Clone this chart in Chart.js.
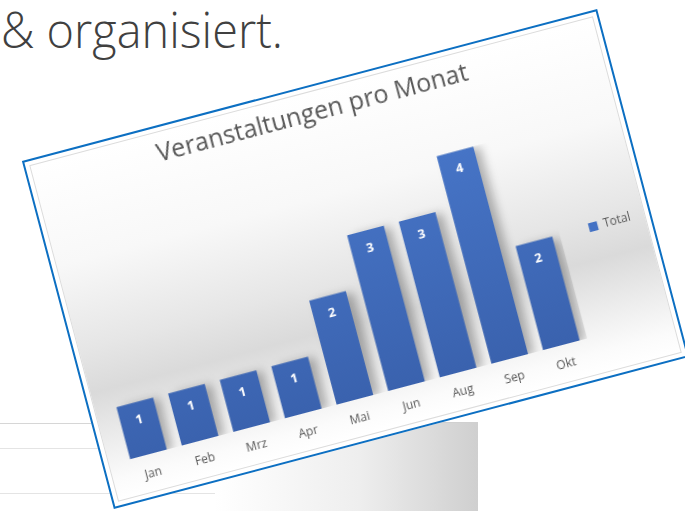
<!DOCTYPE html>
<html>
<head>
<meta charset="utf-8">
<script src="https://cdn.jsdelivr.net/npm/chart.js@4.4.1/dist/chart.umd.min.js"></script>
<style>
  html, body { margin: 0; padding: 0; background: #fff; }
  body { width: 685px; height: 511px; position: relative; overflow: hidden; }
  .headline {
    position: absolute; left: 1px; top: 4.5px;
    font-family: "Open Sans", sans-serif; font-weight: 300;
    font-size: 49px; line-height: 1; color: #404040; white-space: nowrap;
    transform-origin: 0 0;
  }
  .line { position: absolute; left: 0; height: 1px; background: #d6d6d6; }
  .shade {
    position: absolute; left: 215px; top: 422px; width: 263px; height: 89px;
    background: linear-gradient(to right, #ffffff 0%, #eeeeee 55%, #cfcfcf 100%);
    border-top: 1px solid #d0d0d0;
  }
  .frame {
    position: absolute; left: 58.35px; top: 79px; width: 595px; height: 360px;
    box-sizing: border-box; border: 2px solid #0c6fc2;
    background: #fff;
    transform: rotate(-14.8deg);
  }
  .inner {
    position: absolute; left: 4px; top: 4px; right: 4px; bottom: 4px;
    border: 1px solid #dcdcdc;
    background: linear-gradient(to bottom, #ffffff 0%, #f8f8f8 30%, #e6e6e6 55%, #dadada 68%, #ececec 82%, #fbfbfb 94%, #ffffff 100%);
  }
  canvas { position: absolute; left: 0; top: 0; }
</style>
</head>
<body>
<div class="headline" id="headline">&amp; organisiert.</div>
<div class="line" style="top:423px;width:240px"></div>
<div class="line" style="top:448px;width:225px;background:#e4e4e4"></div>
<div class="line" style="top:493px;width:225px;background:#e4e4e4"></div>
<div class="shade"></div>
<div class="frame">
  <div class="inner"></div>
  <canvas id="chart" width="591" height="356"></canvas>
</div>
<script>
// Daten
const months = ["Jan", "Feb", "Mrz", "Apr", "Mai", "Jun", "Aug", "Sep", "Okt"];
const totals = [1, 1, 1, 1, 2, 3, 3, 4, 2];
const yTicks = [0, 1, 2, 3, 4];

const barBlue = "#4472c4";
const textGrey = "#595959";

// Überschrift auf die Breite im Original bringen
const head = document.getElementById("headline");
head.style.transform = "scaleX(" + (282 / head.getBoundingClientRect().width) + ")";

// Schatten hinter den Balken
const barShadow = {
  id: "barShadow",
  beforeDatasetsDraw(chart) {
    const ctx = chart.ctx;
    ctx.save();
    ctx.shadowColor = "rgba(0,0,0,0.28)";
    ctx.shadowBlur = 9;
    ctx.shadowOffsetX = 7;
    ctx.shadowOffsetY = 2;
  },
  afterDatasetsDraw(chart) {
    chart.ctx.restore();
  }
};

// Werte in den Balken
const valueLabels = {
  id: "valueLabels",
  afterDatasetsDraw(chart) {
    const ctx = chart.ctx;
    const meta = chart.getDatasetMeta(0);
    ctx.save();
    ctx.fillStyle = "#ffffff";
    ctx.font = "bold 13px 'Open Sans', sans-serif";
    ctx.textAlign = "center";
    ctx.textBaseline = "middle";
    meta.data.forEach((bar, i) => {
      ctx.fillText(String(totals[i]), bar.x, bar.y + 18);
    });
    ctx.restore();
  }
};

function barFill(context) {
  const area = context.chart.chartArea;
  if (!area) return barBlue;
  const g = context.chart.ctx.createLinearGradient(0, area.top, 0, area.bottom);
  g.addColorStop(0, "#4674c6");
  g.addColorStop(1, "#3a62ae");
  return g;
}

new Chart(document.getElementById("chart").getContext("2d"), {
  type: "bar",
  data: {
    labels: months,
    datasets: [{
      label: "Total",
      data: totals,
      backgroundColor: barFill,
      borderWidth: 0,
      barPercentage: 0.71,
      categoryPercentage: 1
    }]
  },
  options: {
    responsive: false,
    animation: false,
    layout: { padding: { left: 0, right: 9, top: 0, bottom: 3.2 } },
    scales: {
      x: {
        grid: { display: false, drawTicks: false },
        border: { display: false },
        ticks: {
          color: textGrey,
          padding: 12.2,
          font: { family: "'Open Sans', sans-serif", size: 12 }
        }
      },
      y: {
        min: yTicks[0],
        max: yTicks[yTicks.length - 1],
        grid: { display: false, drawTicks: false },
        border: { display: false },
        ticks: { display: false },
        afterFit: (scale) => { scale.width = 18.8; }
      }
    },
    plugins: {
      title: {
        display: true,
        text: "Veranstaltungen pro Monat",
        color: textGrey,
        font: { family: "'Open Sans', sans-serif", size: 25, weight: "normal" },
        padding: { top: 12, bottom: 57.2 }
      },
      legend: {
        position: "right",
        title: { display: true, text: "", padding: { top: 48, bottom: 0 } },
        labels: {
          color: textGrey,
          boxWidth: 9,
          boxHeight: 9,
          padding: 30,
          font: { family: "'Open Sans', sans-serif", size: 12 },
          generateLabels: () => [{
            text: "Total",
            fillStyle: barBlue,
            strokeStyle: barBlue,
            lineWidth: 0,
            fontColor: textGrey,
            datasetIndex: 0
          }]
        }
      },
      tooltip: { enabled: false }
    }
  },
  plugins: [barShadow, valueLabels]
});
</script>
</body>
</html>
